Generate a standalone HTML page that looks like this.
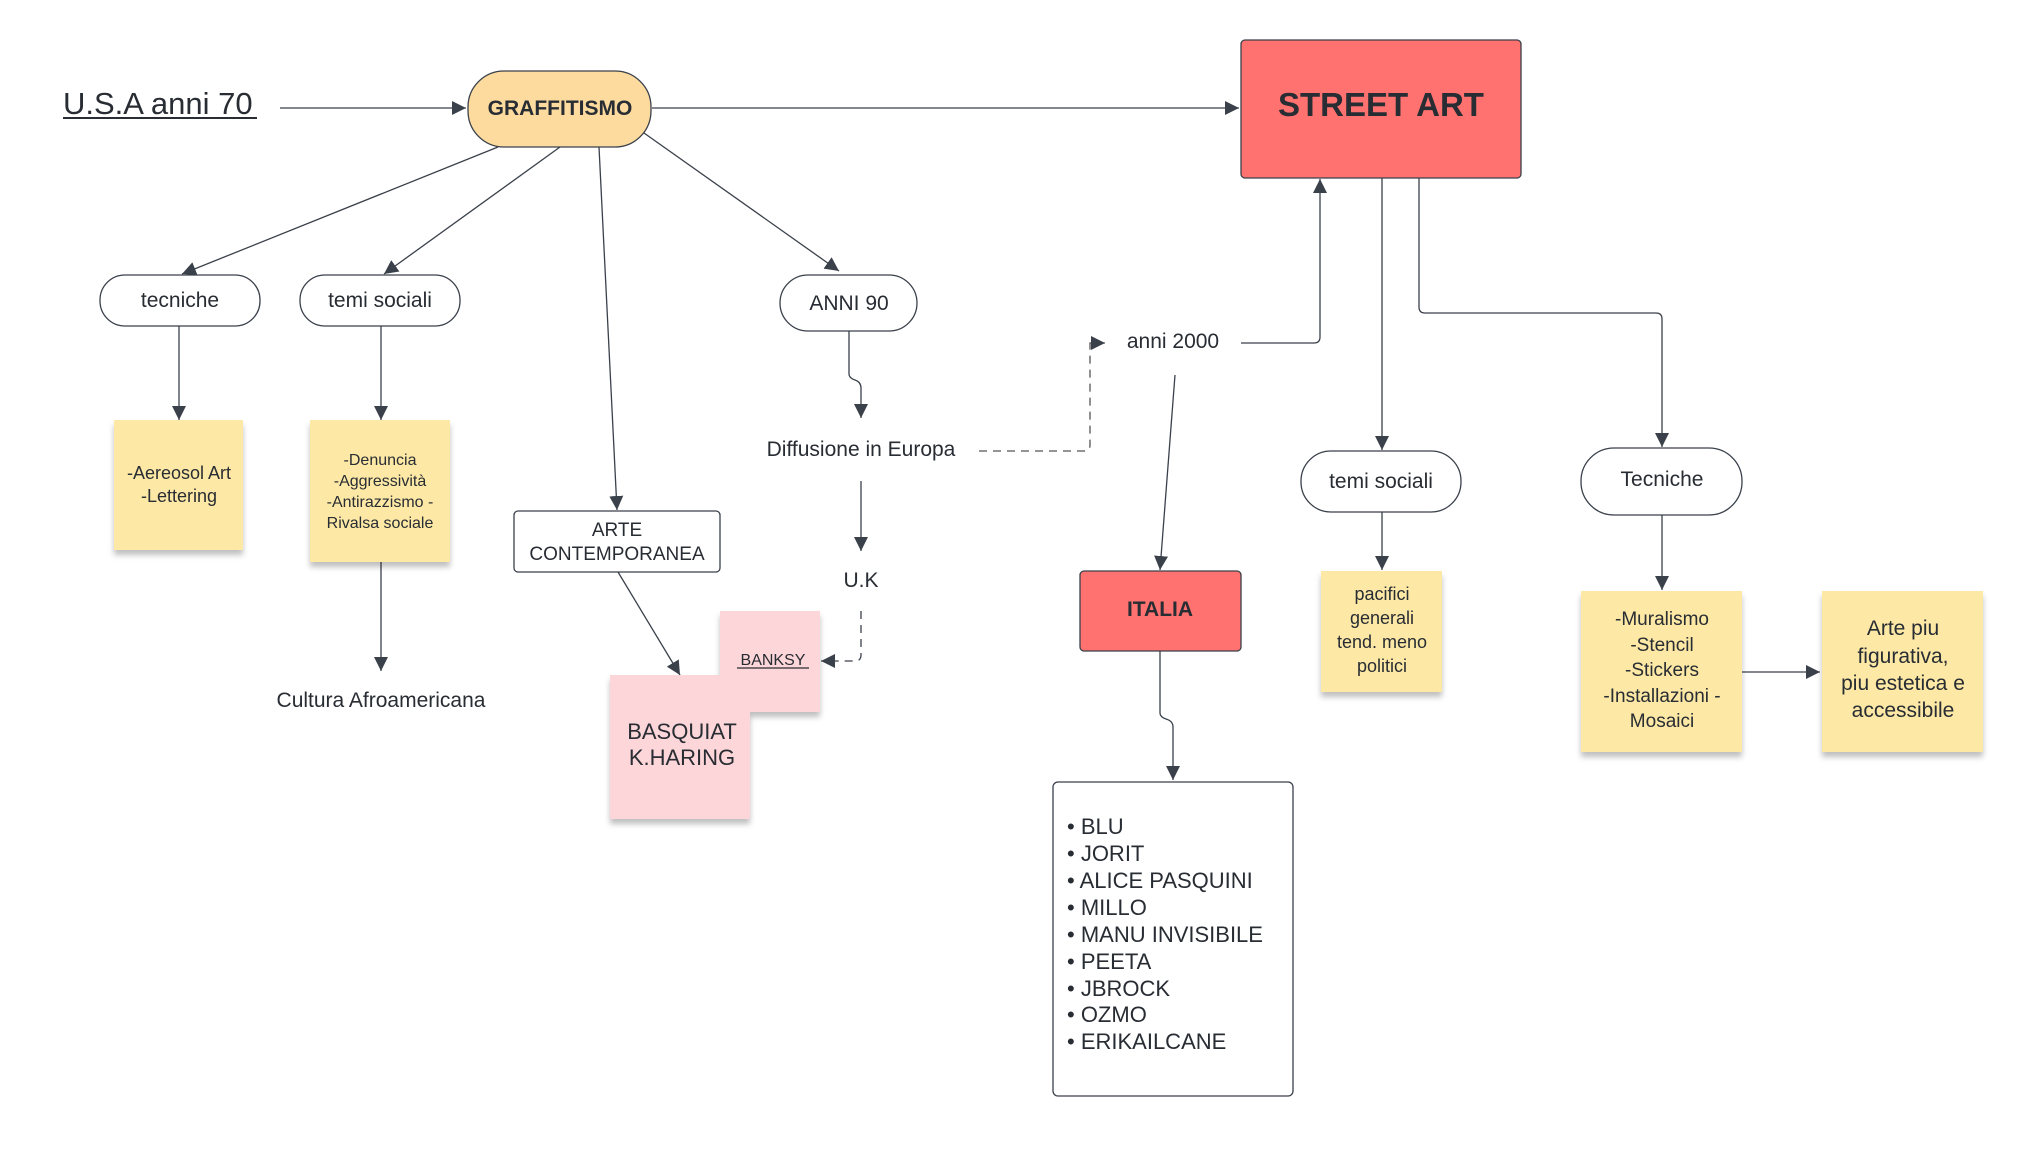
<!DOCTYPE html>
<html><head><meta charset="utf-8"><style>
html,body{margin:0;padding:0;background:#fff}
svg{display:block}
text{font-family:"Liberation Sans",sans-serif;fill:#282c33}
</style></head><body>
<svg width="2037" height="1155" viewBox="0 0 2037 1155" xmlns="http://www.w3.org/2000/svg">
<defs>
<marker id="b" viewBox="0 0 10 10" refX="10" refY="5" markerWidth="14" markerHeight="14" markerUnits="userSpaceOnUse" orient="auto"><path d="M0,0 L10,5 L0,10 z" fill="#3a414a"/></marker>
<filter id="sh" x="-10%" y="-10%" width="130%" height="130%"><feDropShadow dx="0" dy="5" stdDeviation="3" flood-color="#000" flood-opacity="0.25"/></filter>
</defs>
<g stroke="#3a414a" stroke-width="1.3" fill="none">
<line x1="280" y1="108" x2="466" y2="108" marker-end="url(#b)"/>
<line x1="652" y1="108" x2="1239" y2="108" marker-end="url(#b)"/>
<line x1="498" y1="147" x2="182" y2="274" marker-end="url(#b)"/>
<line x1="560" y1="147" x2="384" y2="274" marker-end="url(#b)"/>
<line x1="599" y1="147" x2="617" y2="510" marker-end="url(#b)"/>
<line x1="644" y1="133" x2="839" y2="271" marker-end="url(#b)"/>
<line x1="179" y1="326" x2="179" y2="420" marker-end="url(#b)"/>
<line x1="381" y1="326" x2="381" y2="420" marker-end="url(#b)"/>
<line x1="381" y1="562" x2="381" y2="671" marker-end="url(#b)"/>
<path d="M849,331 V374 Q849,378 855,380 Q861,382 861,388 V418" marker-end="url(#b)"/>
<line x1="861" y1="481" x2="861" y2="551" marker-end="url(#b)"/>
<line x1="618" y1="572" x2="680" y2="675" marker-end="url(#b)"/>
<path d="M861,611 V655 Q861,661 855,661 H821" stroke-dasharray="8,6" marker-end="url(#b)"/>
<path d="M979,451 H1084 Q1090,451 1090,445 V343 H1105" stroke-dasharray="8,6" stroke="#555" marker-end="url(#b)"/>
<path d="M1241,343 H1314 Q1320,343 1320,337 V179" marker-end="url(#b)"/>
<line x1="1382" y1="178" x2="1382" y2="450" marker-end="url(#b)"/>
<path d="M1419,178 V307 Q1419,313 1425,313 H1656 Q1662,313 1662,319 V447" marker-end="url(#b)"/>
<line x1="1175" y1="375" x2="1160" y2="570" marker-end="url(#b)"/>
<line x1="1382" y1="512" x2="1382" y2="570" marker-end="url(#b)"/>
<line x1="1662" y1="515" x2="1662" y2="590" marker-end="url(#b)"/>
<line x1="1742" y1="672" x2="1820" y2="672" marker-end="url(#b)"/>
<path d="M1160,651 V713 Q1160,717 1166,719 Q1173,721 1173,727 V780" marker-end="url(#b)"/>
</g>

<text x="63" y="114" font-size="31">U.S.A anni 70</text>
<line x1="63" y1="118" x2="257" y2="118" stroke="#282c33" stroke-width="2"/>

<rect x="468" y="71" width="183" height="76" rx="36" fill="#fddb9f" stroke="#3a414a" stroke-width="1.3"/>
<text x="560" y="115" font-size="21" font-weight="bold" text-anchor="middle" fill="#3a414a">GRAFFITISMO</text>

<rect x="1241" y="40" width="280" height="138" rx="4" fill="#ff7270" stroke="#3a414a" stroke-width="1.3"/>
<text x="1381" y="116" font-size="33" font-weight="bold" text-anchor="middle" fill="#3a414a">STREET ART</text>

<g fill="#fff" stroke="#3a414a" stroke-width="1.3">
<rect x="100" y="275" width="160" height="51" rx="25"/>
<rect x="300" y="275" width="160" height="51" rx="25"/>
<rect x="780" y="275" width="137" height="56" rx="28"/>
<rect x="514" y="511" width="206" height="61" rx="4"/>
<rect x="1301" y="451" width="160" height="61" rx="30"/>
<rect x="1581" y="448" width="161" height="67" rx="33"/>
<rect x="1053" y="782" width="240" height="314" rx="5"/>
</g>
<text x="180" y="307" font-size="21" text-anchor="middle">tecniche</text>
<text x="380" y="307" font-size="21" text-anchor="middle">temi sociali</text>
<text x="849" y="310" font-size="21" text-anchor="middle">ANNI 90</text>
<text x="617" y="536" font-size="19" text-anchor="middle">ARTE</text>
<text x="617" y="560" font-size="19" text-anchor="middle">CONTEMPORANEA</text>
<text x="1381" y="488" font-size="21" text-anchor="middle">temi sociali</text>
<text x="1662" y="486" font-size="21" text-anchor="middle">Tecniche</text>

<g filter="url(#sh)">
<rect x="114" y="420" width="129" height="130" fill="#fde9a5"/>
<rect x="310" y="420" width="140" height="142" fill="#fde9a5"/>
<rect x="1321" y="571" width="121" height="121" fill="#fde9a5"/>
<rect x="1581" y="591" width="161" height="161" fill="#fde9a5"/>
<rect x="1822" y="591" width="161" height="161" fill="#fde9a5"/>
<rect x="610" y="675" width="140" height="144" fill="#fcd6d8"/>
<rect x="720" y="611" width="100" height="101" fill="#fcd6d8"/>
</g>
<text font-size="18" text-anchor="middle"><tspan x="179" y="479">-Aereosol Art</tspan><tspan x="179" y="502">-Lettering</tspan></text>
<text font-size="16" text-anchor="middle"><tspan x="380" y="465">-Denuncia</tspan><tspan x="380" y="486">-Aggressività</tspan><tspan x="380" y="507">-Antirazzismo -</tspan><tspan x="380" y="528">Rivalsa sociale</tspan></text>
<text x="381" y="707" font-size="21" text-anchor="middle">Cultura Afroamericana</text>
<text x="861" y="456" font-size="21" text-anchor="middle">Diffusione in Europa</text>
<text x="861" y="587" font-size="21" text-anchor="middle">U.K</text>
<text x="773" y="665" font-size="16" text-anchor="middle">BANKSY</text>
<line x1="737" y1="668" x2="809" y2="668" stroke="#282c33" stroke-width="1.2"/>
<text font-size="22" text-anchor="middle"><tspan x="682" y="739">BASQUIAT</tspan><tspan x="682" y="765">K.HARING</tspan></text>
<text x="1173" y="348" font-size="21" text-anchor="middle">anni 2000</text>

<rect x="1080" y="571" width="161" height="80" rx="4" fill="#ff7270" stroke="#3a414a" stroke-width="1.3"/>
<text x="1160" y="616" font-size="21" font-weight="bold" text-anchor="middle" fill="#3a414a">ITALIA</text>

<text font-size="18" text-anchor="middle"><tspan x="1382" y="600">pacifici</tspan><tspan x="1382" y="624">generali</tspan><tspan x="1382" y="648">tend. meno</tspan><tspan x="1382" y="672">politici</tspan></text>
<text font-size="19" text-anchor="middle"><tspan x="1662" y="625">-Muralismo</tspan><tspan x="1662" y="651">-Stencil</tspan><tspan x="1662" y="676">-Stickers</tspan><tspan x="1662" y="702">-Installazioni   -</tspan><tspan x="1662" y="727">Mosaici</tspan></text>
<text font-size="21" text-anchor="middle"><tspan x="1903" y="635">Arte piu</tspan><tspan x="1903" y="663">figurativa,</tspan><tspan x="1903" y="690">piu estetica e</tspan><tspan x="1903" y="717">accessibile</tspan></text>

<text font-size="22"><tspan x="1067" y="834">• BLU</tspan><tspan x="1067" y="861">• JORIT</tspan><tspan x="1067" y="888">• ALICE PASQUINI</tspan><tspan x="1067" y="915">• MILLO</tspan><tspan x="1067" y="942">• MANU INVISIBILE</tspan><tspan x="1067" y="969">• PEETA</tspan><tspan x="1067" y="996">• JBROCK</tspan><tspan x="1067" y="1022">• OZMO</tspan><tspan x="1067" y="1049">• ERIKAILCANE</tspan></text>
</svg>
</body></html>
